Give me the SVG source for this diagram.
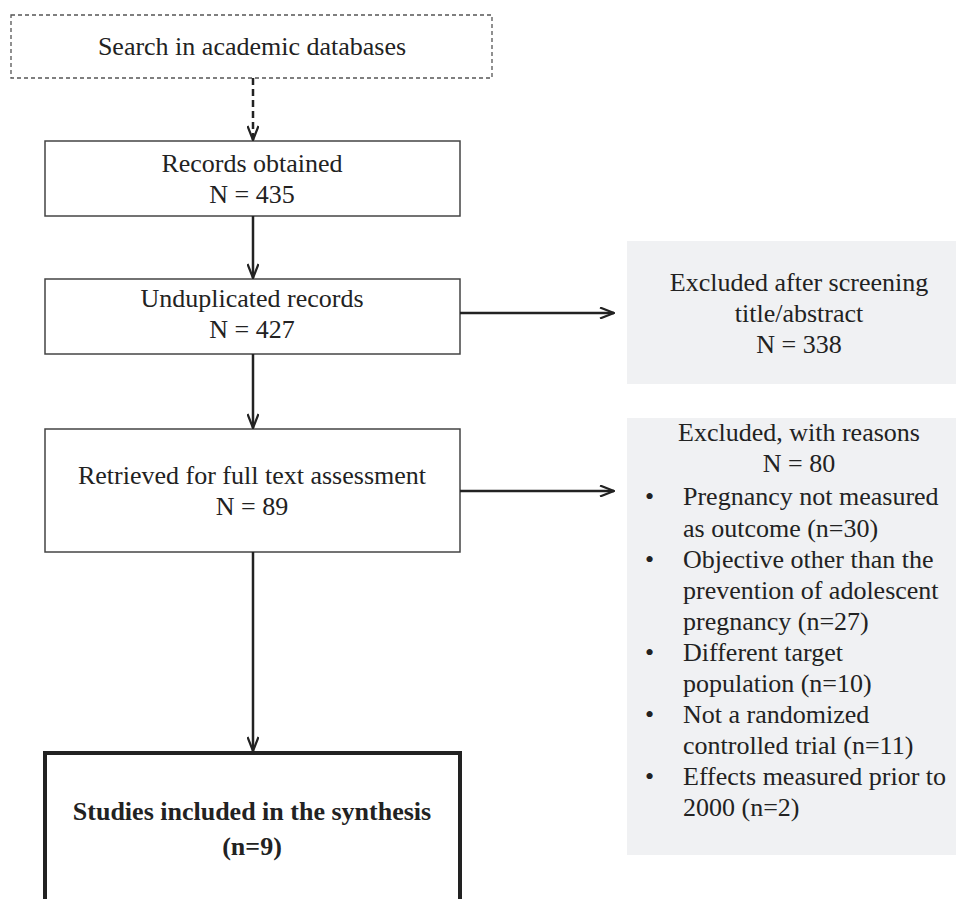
<svg xmlns="http://www.w3.org/2000/svg" width="956" height="899" viewBox="0 0 956 899">
<defs>
<style>
text{font-family:"Liberation Serif","Times New Roman",serif;font-size:26px;fill:#222;}
.c{text-anchor:middle;}
.b{font-weight:bold;}
.box{fill:#fff;stroke:#444;stroke-width:1.5;}
.gray{fill:#f0f1f3;stroke:none;}
.con{stroke:#222;stroke-width:2.5;fill:none;}
.dash{stroke-dasharray:7 4;}
</style>
<marker id="arr" viewBox="0 0 16 12" refX="15" refY="6" markerWidth="16" markerHeight="12" markerUnits="userSpaceOnUse" orient="auto">
<path d="M1,0.5 L15,6 L1,11.5" fill="none" stroke="#222" stroke-width="2.2"/>
</marker>
</defs>
<rect width="956" height="899" fill="#fff"/>
<g id="search">
<rect x="11" y="15" width="481" height="63" fill="#fff" stroke="#555" stroke-width="1.3" stroke-dasharray="4 3"/>
<text class="c" x="252" y="55">Search in academic databases</text>
</g>
<g id="records">
<rect class="box" x="45" y="141" width="415" height="75"/>
<text class="c" x="252" y="172">Records obtained</text>
<text class="c" x="252" y="203">N = 435</text>
</g>
<g id="unduplicated">
<rect class="box" x="45" y="279" width="415" height="75"/>
<text class="c" x="252" y="307">Unduplicated records</text>
<text class="c" x="252" y="338">N = 427</text>
</g>
<g id="excluded1">
<rect class="gray" x="627" y="241" width="340" height="143"/>
<text class="c" x="799" y="291">Excluded after screening</text>
<text class="c" x="799" y="322">title/abstract</text>
<text class="c" x="799" y="353">N = 338</text>
</g>
<g id="retrieved">
<rect class="box" x="45" y="429" width="415" height="123"/>
<text class="c" x="252" y="484">Retrieved for full text assessment</text>
<text class="c" x="252" y="515">N = 89</text>
</g>
<g id="excluded2">
<rect class="gray" x="627" y="418" width="340" height="437"/>
<text class="c" x="799" y="441">Excluded, with reasons</text>
<text class="c" x="799" y="472">N = 80</text>
<text x="645" y="505">•</text><text x="683" y="505">Pregnancy not measured</text>
<text x="683" y="537">as outcome (n=30)</text>
<text x="645" y="568">•</text><text x="683" y="568">Objective other than the</text>
<text x="683" y="599">prevention of adolescent</text>
<text x="683" y="630">pregnancy (n=27)</text>
<text x="645" y="661">•</text><text x="683" y="661">Different target</text>
<text x="683" y="692">population (n=10)</text>
<text x="645" y="723">•</text><text x="683" y="723">Not a randomized</text>
<text x="683" y="754">controlled trial (n=11)</text>
<text x="645" y="785">•</text><text x="683" y="785">Effects measured prior to</text>
<text x="683" y="816">2000 (n=2)</text>
</g>
<g id="included">
<rect x="45" y="753" width="415" height="170" fill="#fff" stroke="#222" stroke-width="4"/>
<text class="c b" x="252" y="820">Studies included in the synthesis</text>
<text class="c b" x="252" y="855">(n=9)</text>
</g>
<g id="connectors">
<line class="con dash" x1="253" y1="78" x2="253" y2="140" marker-end="url(#arr)"/>
<line class="con" x1="253" y1="216" x2="253" y2="278" marker-end="url(#arr)"/>
<line class="con" x1="253" y1="354" x2="253" y2="428" marker-end="url(#arr)"/>
<line class="con" x1="253" y1="552" x2="253" y2="751" marker-end="url(#arr)"/>
<line class="con" x1="460" y1="313" x2="614" y2="313" stroke-width="2" marker-end="url(#arr)"/>
<line class="con" x1="460" y1="491" x2="614" y2="491" stroke-width="2" marker-end="url(#arr)"/>
</g>
</svg>
